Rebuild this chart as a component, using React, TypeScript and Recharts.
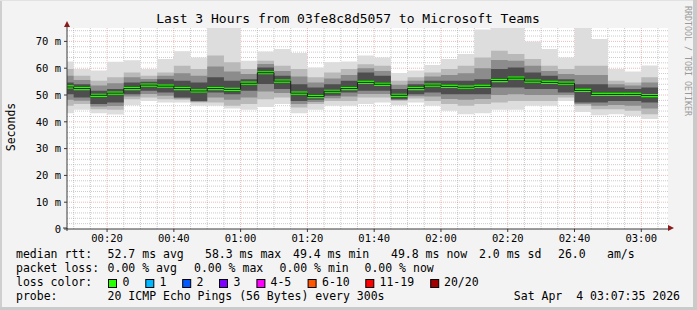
import { ComposedChart, Area, Line, XAxis, YAxis, CartesianGrid } from "recharts";

const MONO = '"DejaVu Sans Mono", monospace';

// minutes after 00:00 where each 5 minute step starts (the first one is cut by the window)
const stepStart = [
  8, 10, 15, 20, 25, 30, 35, 40, 45, 50, 55, 60, 65, 70, 75, 80, 85, 90, 95, 100,
  105, 110, 115, 120, 125, 130, 135, 140, 145, 150, 155, 160, 165, 170, 175, 180,
];
const lastStepEnd = 185;

// median rtt per step, ms
const median = [
  53.0, 52.4, 49.9, 50.7, 52.4, 53.7, 53.3, 52.4, 51.5, 52.4, 52.1, 54.4, 58.3, 55.2, 50.7, 49.4, 51.4, 52.4,
  54.7, 54.0, 49.9, 52.4, 53.7, 53.2, 52.9, 53.2, 55.4, 56.3, 55.2, 54.7, 54.4, 51.7, 50.2, 50.2, 50.2, 49.8,
];
// fastest / slowest ping of each step (76 = runs off the top)
const pingMin = [
  43.2, 44.5, 43.2, 42.7, 46.2, 47.8, 47.2, 47.2, 46.0, 46.0, 45.0, 44.5, 45.5, 46.6, 43.2, 44.5, 46.0, 46.0,
  46.6, 47.2, 46.2, 47.2, 46.0, 44.1, 42.8, 43.2, 44.5, 44.5, 46.0, 46.0, 47.8, 43.7, 42.4, 42.8, 42.2, 41.0,
];
const pingMax = [
  62.5, 59.7, 59.1, 62.4, 63.0, 59.7, 63.4, 66.3, 64.0, 76, 76, 62.8, 66.2, 67.2, 65.7, 60.3, 62.2, 62.5,
  64.7, 64.0, 58.2, 59.1, 61.2, 63.4, 65.3, 74.4, 76, 76, 70.0, 67.2, 64.0, 76, 70.9, 59.7, 58.8, 61.0,
];
// middle smoke band
const midLo = [
  46.0, 46.6, 44.7, 44.5, 48.4, 49.1, 48.4, 48.2, 47.2, 47.2, 46.0, 46.6, 48.4, 49.1, 45.3, 46.6, 47.8, 47.8,
  49.1, 49.1, 47.8, 48.7, 47.8, 46.6, 46.0, 46.6, 47.2, 47.8, 47.8, 47.8, 49.1, 46.0, 44.7, 44.7, 44.1, 42.8,
];
const midHi = [
  59.7, 57.2, 55.3, 56.6, 58.4, 57.2, 58.4, 60.9, 59.7, 64.7, 62.2, 59.7, 62.8, 60.9, 59.7, 56.6, 58.4, 59.7,
  61.5, 60.9, 55.3, 56.6, 58.4, 59.7, 60.9, 64.0, 66.5, 65.3, 63.4, 60.9, 59.7, 60.9, 60.9, 55.3, 54.7, 56.6,
];
// darker band inside it
const innerLo = [
  48.2, 47.9, 45.7, 45.9, 49.4, 50.4, 49.7, 48.7, 47.5, 49.1, 48.2, 49.1, 51.3, 50.7, 46.6, 47.4, 48.8, 49.4,
  50.4, 50.4, 48.1, 49.5, 49.4, 48.5, 48.2, 48.5, 50.0, 50.3, 50.0, 50.0, 50.0, 46.6, 46.0, 46.3, 46.0, 45.0,
];
const innerHi = [
  57.2, 55.6, 53.5, 54.4, 56.6, 56.0, 57.2, 58.1, 57.2, 60.6, 58.8, 57.8, 61.6, 59.0, 56.9, 54.7, 56.2, 57.5,
  60.0, 59.0, 53.8, 55.3, 56.9, 57.5, 58.1, 60.0, 63.1, 62.8, 60.9, 59.0, 57.8, 57.5, 57.5, 54.0, 53.5, 54.7,
];
// dark core around the median
const coreLo = [
  50.3, 49.1, 46.6, 47.2, 50.3, 51.6, 50.9, 49.1, 47.8, 50.9, 50.3, 51.6, 54.1, 52.2, 47.8, 48.2, 49.7, 50.9,
  51.6, 51.6, 48.4, 50.3, 50.9, 50.3, 50.3, 50.3, 52.8, 52.8, 52.2, 52.2, 50.9, 47.2, 47.2, 47.8, 47.8, 47.2,
];
const coreHi = [
  54.7, 54.0, 51.6, 52.2, 54.7, 54.9, 55.9, 55.3, 54.7, 56.6, 55.3, 55.9, 60.3, 57.2, 54.0, 52.8, 54.0, 55.3,
  58.4, 57.2, 52.2, 54.0, 55.3, 55.3, 55.3, 55.9, 59.7, 60.3, 58.4, 57.2, 55.9, 54.0, 54.0, 52.8, 52.2, 52.8,
];

const timeTicks = [20, 40, 60, 80, 100, 120, 140, 160, 180];
const timeLabels = ["00:20", "00:40", "01:00", "01:20", "01:40", "02:00", "02:20", "02:40", "03:00"];
const yTicks = [0, 10, 20, 30, 40, 50, 60, 70];
const yLabels = ["0", "10 m", "20 m", "30 m", "40 m", "50 m", "60 m", "70 m"];
const minorY = [2, 4, 6, 8, 12, 14, 16, 18, 22, 24, 26, 28, 32, 34, 36, 38, 42, 44, 46, 48, 52, 54, 56, 58, 62, 64, 66, 68, 72, 74];
const minorX = [10, 15, 25, 30, 35, 45, 50, 55, 65, 70, 75, 85, 90, 95, 105, 110, 115, 125, 130, 135, 145, 150, 155, 165, 170, 175, 185];

const lossNames = ["0", "1", "2", "3", "4-5", "6-10", "11-19", "20/20"];
const lossColors = ["#26ff00", "#00b8ff", "#0059ff", "#7e00ff", "#ff00ff", "#ff5500", "#ff0000", "#a10000"];

const rows = stepStart.map((t, i) => ({
  t,
  med: median[i],
  outer: [pingMin[i], pingMax[i]],
  mid: [midLo[i], midHi[i]],
  inner: [innerLo[i], innerHi[i]],
  core: [coreLo[i], coreHi[i]],
  green: [median[i] - 0.6, median[i] + 0.6],
}));
rows.push({ ...rows[rows.length - 1], t: lastStepEnd });

const AXIS = "#3a3a3a";
const ARROW = "#8b1a1a";

function Txt({ x, y, children, anchor = "start", size = 11.5 }: any) {
  return (
    <text x={x} y={y} fontFamily={MONO} fontSize={size} fill="#000" textAnchor={anchor} style={{ whiteSpace: "pre" }}>
      {children}
    </text>
  );
}

const boxX = [108, 145.3, 182.2, 219, 256.4, 307.6, 365.3, 430.2];
const boxLabelX = [122.5, 159.5, 196.5, 233.5, 270.5, 322, 379.5, 444];

export default function App() {
  return (
    <div style={{ position: "absolute", left: 0, top: 0, width: 697, height: 310, background: "#f3f3f3" }}>
      <ComposedChart
        width={697}
        height={297}
        data={rows}
        margin={{ top: 28, right: 29, bottom: 38, left: 17 }}
      >
        <CartesianGrid fill="#ffffff" horizontal={false} vertical={false} />
        <XAxis
          type="number"
          dataKey="t"
          domain={[8, 188]}
          ticks={timeTicks}
          tickFormatter={(v: number) => timeLabels[timeTicks.indexOf(v)]}
          allowDataOverflow
          height={30}
          tickSize={3}
          tickMargin={3}
          stroke={AXIS}
          tick={{ fontFamily: MONO, fontSize: 10.5, fill: "#000" }}
        />
        <YAxis
          type="number"
          domain={[0, 75]}
          ticks={yTicks}
          tickFormatter={(v: number) => yLabels[yTicks.indexOf(v)]}
          allowDataOverflow
          width={50}
          tickSize={3}
          tickMargin={3}
          stroke={AXIS}
          tick={{ fontFamily: MONO, fontSize: 10.5, fill: "#000" }}
        />
        <Area dataKey="outer" type="stepAfter" fill="#dddddd" fillOpacity={1} stroke="none" isAnimationActive={false} />
        <Area dataKey="mid" type="stepAfter" fill="#b9b9b9" fillOpacity={1} stroke="none" isAnimationActive={false} />
        <Area dataKey="inner" type="stepAfter" fill="#8c8c8c" fillOpacity={1} stroke="none" isAnimationActive={false} />
        <Area dataKey="core" type="stepAfter" fill="#4e4e4e" fillOpacity={1} stroke="none" isAnimationActive={false} />
        <Line dataKey="med" type="stepAfter" stroke="#202020" strokeWidth={1} dot={false} isAnimationActive={false} />
        <Area dataKey="green" type="stepAfter" fill="#22ff00" fillOpacity={1} stroke="none" isAnimationActive={false} />
        <CartesianGrid
          stroke="#8c8c8c"
          strokeOpacity={0.45}
          strokeDasharray="1 1"
          horizontalValues={minorY}
          verticalValues={minorX}
        />
        <CartesianGrid
          stroke="#d04040"
          strokeOpacity={0.35}
          strokeDasharray="1 1"
          horizontalValues={yTicks.slice(1)}
          verticalValues={timeTicks}
        />
      </ComposedChart>
      <svg width={697} height={310} style={{ position: "absolute", left: 0, top: 0, pointerEvents: "none" }}>
        <rect x={0} y={0} width={2} height={310} fill="#cfcfcf" />
        <rect x={0} y={0} width={697} height={1} fill="#e2e2e2" />
        <rect x={693} y={0} width={4} height={310} fill="#cacaca" />
        <rect x={0} y={307} width={697} height={3} fill="#cacaca" />
        <line x1={67} y1={228} x2={67} y2={231} stroke={AXIS} />
        <line x1={63} y1={228} x2={67} y2={228} stroke={AXIS} />
        <line x1={67} y1={28} x2={67} y2={25} stroke={AXIS} />
        <polygon points="64,27 70,27 67,21" fill={ARROW} />
        <polygon points="668,225 668,231 674,228" fill={ARROW} />
        <Txt x={348} y={22.5} anchor="middle" size={13}>
          Last 3 Hours from 03fe8c8d5057 to Microsoft Teams
        </Txt>
        <text x={15} y={127} transform="rotate(-90 15 127)" fontFamily={MONO} fontSize={11.5} textAnchor="middle" fill="#000">
          Seconds
        </text>
        <text x={684.5} y={6} transform="rotate(90 684.5 6)" fontFamily={MONO} fontSize={8.3} fill="#9a9a9a">
          RRDTOOL / TOBI OETIKER
        </text>
        <Txt x={16} y={258}>median rtt:</Txt>
        <Txt x={107.6} y={258}>52.7 ms avg</Txt>
        <Txt x={205} y={258}>58.3 ms max</Txt>
        <Txt x={293} y={258}>49.4 ms min</Txt>
        <Txt x={391} y={258}>49.8 ms now</Txt>
        <Txt x={479} y={258}>2.0 ms sd</Txt>
        <Txt x={558} y={258}>26.0</Txt>
        <Txt x={607} y={258}>am/s</Txt>
        <Txt x={16} y={272}>packet loss:</Txt>
        <Txt x={107.6} y={272}>0.00 % avg</Txt>
        <Txt x={194} y={272}>0.00 % max</Txt>
        <Txt x={279.5} y={272}>0.00 % min</Txt>
        <Txt x={364.5} y={272}>0.00 % now</Txt>
        <Txt x={16} y={286}>loss color:</Txt>
        {lossNames.map((name, i) => (
          <g key={name}>
            <rect x={boxX[i] + 0.5} y={279.5} width={8} height={8} fill={lossColors[i]} stroke="#000" strokeWidth={1} />
            <Txt x={boxLabelX[i]} y={286}>{name}</Txt>
          </g>
        ))}
        <Txt x={16} y={300}>probe:</Txt>
        <Txt x={107.6} y={300}>20 ICMP Echo Pings (56 Bytes) every 300s</Txt>
        <Txt x={680} y={300} anchor="end">Sat Apr  4 03:07:35 2026</Txt>
      </svg>
    </div>
  );
}
